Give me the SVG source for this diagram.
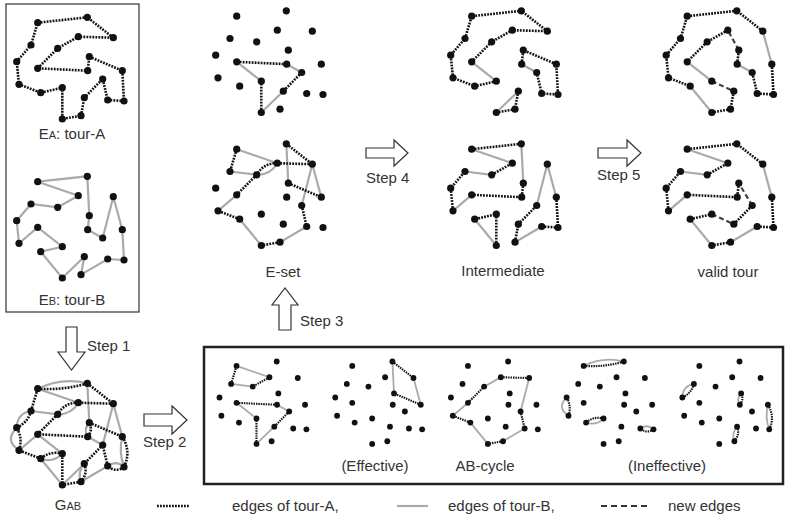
<svg xmlns="http://www.w3.org/2000/svg" xmlns:xlink="http://www.w3.org/1999/xlink" width="786" height="518" viewBox="0 0 786 518">
<style>
.a{fill:none;stroke:#111;stroke-width:2.6;stroke-dasharray:1.8 1.2}
.b{fill:none;stroke:#aaa;stroke-width:2.2}
.n{fill:none;stroke:#444;stroke-width:2.2;stroke-dasharray:5 3}
.t{font-family:"Liberation Sans",Arial,sans-serif;font-size:15px;fill:#333}
.arw{fill:#fff;stroke:#333;stroke-width:1.2}
</style>
<defs>
<g id="pts" fill="#111">
<circle cx="37.7" cy="22.7" r="3.6"/><circle cx="87.3" cy="17.3" r="3.6"/><circle cx="113.3" cy="37.7" r="3.6"/><circle cx="78.3" cy="36.7" r="3.6"/><circle cx="57.7" cy="48.3" r="3.6"/>
<circle cx="37.7" cy="68.3" r="3.6"/><circle cx="87.7" cy="70.7" r="3.6"/><circle cx="89.3" cy="56.7" r="3.6"/><circle cx="122.3" cy="70.7" r="3.6"/><circle cx="124" cy="101" r="3.6"/>
<circle cx="107.7" cy="100" r="3.6"/><circle cx="102.7" cy="79" r="3.6"/><circle cx="84.3" cy="97.7" r="3.6"/><circle cx="81" cy="115.7" r="3.6"/><circle cx="62.3" cy="119" r="3.6"/>
<circle cx="62.3" cy="87.7" r="3.6"/><circle cx="40.7" cy="92.7" r="3.6"/><circle cx="19" cy="84.3" r="3.6"/><circle cx="16.7" cy="61.7" r="3.6"/><circle cx="31" cy="45" r="3.6"/>
</g>
<g id="s1-2"><path class="b" d="M37.7,22.7 Q62,11 87.3,17.3"/><path class="a" d="M37.7,22.7 Q62.9,24.5 87.3,17.3"/></g>
<g id="s4-5"><path class="b" d="M78.3,36.7 Q71.5,48.5 57.7,48.3"/><path class="a" d="M78.3,36.7 Q64.5,36.5 57.7,48.3"/></g>
<g id="s7-8"><path class="b" d="M87.7,70.7 Q83,63.1 89.3,56.7"/><path class="a" d="M87.7,70.7 Q93,64.2 89.3,56.7"/></g>
<g id="s9-10"><path class="b" d="M122.3,70.7 Q118.5,86.1 124,101"/><path class="a" d="M122.3,70.7 Q131.5,85.5 124,101"/></g>
<g id="s10-11"><path class="b" d="M124,101 Q116.3,94 107.7,100"/><path class="a" d="M124,101 Q115.5,107 107.7,100"/></g>
<g id="s13-14"><path class="b" d="M84.3,97.7 Q77,105.5 81,115.7"/><path class="a" d="M84.3,97.7 Q88,107.6 81,115.7"/></g>
<g id="s16-17"><path class="b" d="M62.3,87.7 Q53,97 40.7,92.7"/><path class="a" d="M62.3,87.7 Q50.3,84.5 40.7,92.7"/></g>
<g id="s18-19"><path class="b" d="M19,84.3 Q4,74.4 16.7,61.7"/><path class="a" d="M19,84.3 Q23,72.5 16.7,61.7"/></g>
<g id="s19-20"><path class="b" d="M16.7,61.7 Q17,47.5 31,45"/><path class="a" d="M16.7,61.7 Q28,56.5 31,45"/></g>
</defs>
<rect width="786" height="518" fill="#fff"/>

<!-- left box -->
<rect x="6" y="4" width="133" height="308" fill="none" stroke="#333" stroke-width="1.2"/>

<g id="tourA">
<path class="a" d="M37.7,22.7 L87.3,17.3 L113.3,37.7 L78.3,36.7 L57.7,48.3 L37.7,68.3 L87.7,70.7 L89.3,56.7 L122.3,70.7 L124,101 L107.7,100 L102.7,79 L84.3,97.7 L81,115.7 L62.3,119 L62.3,87.7 L40.7,92.7 L19,84.3 L16.7,61.7 L31,45 Z"/>
<use xlink:href="#pts"/>
<text class="t" x="72" y="139" text-anchor="middle">E<tspan font-size="11">A</tspan>: tour-A</text>
</g>

<g id="tourB">
<g transform="translate(0,159)">
<path class="b" d="M37.7,22.7 L87.3,17.3 L89.3,56.7 L87.7,70.7 L102.7,79 L113.3,37.7 L122.3,70.7 L124,101 L107.7,100 L81,115.7 L84.3,97.7 L62.3,119 L40.7,92.7 L62.3,87.7 L37.7,68.3 L19,84.3 L16.7,61.7 L31,45 L57.7,48.3 L78.3,36.7 Z"/>
<use xlink:href="#pts"/>
</g>
<text class="t" x="72" y="305" text-anchor="middle">E<tspan font-size="11">B</tspan>: tour-B</text>
</g>

<g id="GAB">
<g transform="translate(0,366)">
<path class="b" d="M87.3,17.3 L89.3,56.7 M87.7,70.7 L102.7,79 L113.3,37.7 L122.3,70.7 M107.7,100 L81,115.7 M84.3,97.7 L62.3,119 L40.7,92.7 M62.3,87.7 L37.7,68.3 L19,84.3 M31,45 L57.7,48.3 M78.3,36.7 L37.7,22.7"/>
<path class="a" d="M87.3,17.3 L113.3,37.7 L78.3,36.7 M57.7,48.3 L37.7,68.3 L87.7,70.7 M89.3,56.7 L122.3,70.7 M107.7,100 L102.7,79 L84.3,97.7 M81,115.7 L62.3,119 L62.3,87.7 M40.7,92.7 L19,84.3 M31,45 L37.7,22.7"/>
<use xlink:href="#s1-2"/><use xlink:href="#s4-5"/><use xlink:href="#s7-8"/><use xlink:href="#s9-10"/><use xlink:href="#s10-11"/><use xlink:href="#s13-14"/><use xlink:href="#s16-17"/><use xlink:href="#s18-19"/><use xlink:href="#s19-20"/>
<use xlink:href="#pts"/>
</g>
<text class="t" x="68" y="510" text-anchor="middle">G<tspan font-size="11">AB</tspan></text>
</g>

<g id="Eset">
<g transform="translate(199,-6.5)">
<path class="b" d="M87.7,70.7 L102.7,79 M84.3,97.7 L62.3,119 M62.3,87.7 L37.7,68.3"/>
<path class="a" d="M37.7,68.3 L87.7,70.7 M102.7,79 L84.3,97.7 M62.3,119 L62.3,87.7"/>
<use xlink:href="#pts"/>
</g>
<g transform="translate(199,126.5)">
<path class="b" d="M31,45 L57.7,48.3 M37.7,22.7 L78.3,36.7 M87.3,17.3 L89.3,56.7 M102.7,79 L113.3,37.7 L122.3,70.7 M107.7,100 L81,115.7 M62.3,119 L40.7,92.7 M19,84.3 L37.7,68.3"/>
<path class="a" d="M37.7,22.7 L31,45 M57.7,48.3 L37.7,68.3 M78.3,36.7 L113.3,37.7 L87.3,17.3 M89.3,56.7 L122.3,70.7 M102.7,79 L107.7,100 M81,115.7 L62.3,119 M40.7,92.7 L19,84.3"/>
<use xlink:href="#s4-5"/>
<use xlink:href="#pts"/>
</g>
<text class="t" x="283" y="277" text-anchor="middle">E-set</text>
</g>

<g id="Intermediate">
<g transform="translate(434,-6.5)">
<path class="b" d="M37.7,68.3 L62.3,87.7 M102.7,79 L87.7,70.7 M62.3,119 L84.3,97.7"/>
<path class="a" d="M62.3,87.7 L40.7,92.7 L19,84.3 L16.7,61.7 L31,45 L37.7,22.7 L87.3,17.3 L113.3,37.7 L78.3,36.7 L57.7,48.3 L37.7,68.3 M87.7,70.7 L89.3,56.7 L122.3,70.7 L124,101 L107.7,100 L102.7,79 M84.3,97.7 L81,115.7 L62.3,119"/>
<use xlink:href="#pts"/>
</g>
<g transform="translate(434,126.5)">
<path class="b" d="M87.3,17.3 L89.3,56.7 M37.7,68.3 L19,84.3 M31,45 L57.7,48.3 M78.3,36.7 L37.7,22.7 M113.3,37.7 L122.3,70.7 M107.7,100 L81,115.7 M102.7,79 L113.3,37.7 M40.7,92.7 L62.3,119"/>
<path class="a" d="M37.7,22.7 L87.3,17.3 M89.3,56.7 L87.7,70.7 L37.7,68.3 M19,84.3 L16.7,61.7 L31,45 M57.7,48.3 L78.3,36.7 M122.3,70.7 L124,101 L107.7,100 M81,115.7 L84.3,97.7 L102.7,79 M62.3,119 L62.3,87.7 L40.7,92.7"/>
<use xlink:href="#pts"/>
</g>
<text class="t" x="503" y="276" text-anchor="middle">Intermediate</text>
</g>

<g id="validTour">
<g transform="translate(649.5,-6.5)">
<path class="b" d="M113.3,37.7 L122.3,70.7 M102.7,79 L87.7,70.7 M37.7,68.3 L62.3,87.7 M62.3,119 L40.7,92.7"/>
<path class="a" d="M113.3,37.7 L87.3,17.3 L37.7,22.7 L31,45 L16.7,61.7 L19,84.3 L40.7,92.7 M122.3,70.7 L124,101 L107.7,100 L102.7,79 M87.7,70.7 L89.3,56.7 M78.3,36.7 L57.7,48.3 L37.7,68.3 M84.3,97.7 L81,115.7 L62.3,119"/>
<path class="n" d="M89.3,56.7 L78.3,36.7 M62.3,87.7 L84.3,97.7"/>
<use xlink:href="#pts"/>
</g>
<g transform="translate(649.5,126.5)">
<path class="b" d="M113.3,37.7 L122.3,70.7 M107.7,100 L81,115.7 M62.3,119 L40.7,92.7 M37.7,68.3 L19,84.3 M31,45 L57.7,48.3 M78.3,36.7 L37.7,22.7"/>
<path class="a" d="M113.3,37.7 L87.3,17.3 L37.7,22.7 M122.3,70.7 L124,101 L107.7,100 M81,115.7 L62.3,119 M40.7,92.7 L62.3,87.7 M84.3,97.7 L102.7,79 M89.3,56.7 L87.7,70.7 L37.7,68.3 M19,84.3 L16.7,61.7 L31,45 M57.7,48.3 L78.3,36.7"/>
<path class="n" d="M62.3,87.7 L84.3,97.7 M102.7,79 L89.3,56.7"/>
<use xlink:href="#pts"/>
</g>
<text class="t" x="728" y="277" text-anchor="middle">valid tour</text>
</g>

<!-- bottom box -->
<g id="ABcycles">
<rect x="204" y="347" width="579" height="137" fill="none" stroke="#222" stroke-width="2.5"/>
<g id="ab1" transform="translate(206,347.5) scale(0.81)">
<path class="b" d="M37.7,22.7 L78.3,36.7 M57.7,48.3 L31,45 M87.7,70.7 L102.7,79 M84.3,97.7 L62.3,119 M62.3,87.7 L37.7,68.3"/>
<path class="a" d="M78.3,36.7 L57.7,48.3 M31,45 L37.7,22.7 M37.7,68.3 L87.7,70.7 M102.7,79 L84.3,97.7 M62.3,119 L62.3,87.7"/>
<use xlink:href="#pts"/>
</g>
<g id="ab2" transform="translate(321.7,347.5) scale(0.81)">
<path class="b" d="M113.3,37.7 L122.3,70.7 M89.3,56.7 L87.3,17.3"/>
<path class="a" d="M87.3,17.3 L113.3,37.7 M122.3,70.7 L89.3,56.7"/>
<use xlink:href="#pts"/>
</g>
<g id="ab3" transform="translate(437.4,347.5) scale(0.81)">
<path class="b" d="M113.3,37.7 L102.7,79 M107.7,100 L81,115.7 M62.3,119 L40.7,92.7 M19,84.3 L37.7,68.3 M57.7,48.3 L78.3,36.7"/>
<path class="a" d="M78.3,36.7 L113.3,37.7 M102.7,79 L107.7,100 M81,115.7 L62.3,119 M40.7,92.7 L19,84.3 M37.7,68.3 L57.7,48.3"/>
<use xlink:href="#pts"/>
</g>
<g id="ab4" transform="translate(553.1,347.5) scale(0.81)">
<use xlink:href="#s1-2"/><use xlink:href="#s18-19"/><use xlink:href="#s16-17"/><use xlink:href="#s10-11"/>
<use xlink:href="#pts"/>
</g>
<g id="ab5" transform="translate(668.8,347.5) scale(0.81)">
<use xlink:href="#s19-20"/><use xlink:href="#s7-8"/><use xlink:href="#s9-10"/><use xlink:href="#s13-14"/>
<use xlink:href="#pts"/>
</g>
<text class="t" x="375" y="471" text-anchor="middle">(Effective)</text>
<text class="t" x="485" y="471" text-anchor="middle">AB-cycle</text>
<text class="t" x="667" y="471" text-anchor="middle">(Ineffective)</text>
</g>

<!-- step arrows -->
<g id="connectors">
<polygon class="arw" points="66,327 77,327 77,352 85,352 71.5,370 58,352 66,352"/>
<text class="t" x="87" y="351">Step 1</text>
<polygon class="arw" points="144,414 172,414 172,406 187,420 172,434 172,426 144,426"/>
<text class="t" x="143" y="447">Step 2</text>
<polygon class="arw" points="279,330 291,330 291,305 298,305 285,288 272,305 279,305"/>
<text class="t" x="300" y="326">Step 3</text>
<polygon class="arw" points="366,148 394,148 394,140 408,153 394,166 394,158 366,158"/>
<text class="t" x="366" y="183">Step 4</text>
<polygon class="arw" points="598,148 627,148 627,140 641,153 627,166 627,158 598,158"/>
<text class="t" x="597" y="180">Step 5</text>
</g>

<!-- legend -->
<g id="legend">
<path class="a" d="M157,506 H190"/>
<text class="t" x="232" y="511">edges of  tour-A,</text>
<path class="b" d="M397,506 H428"/>
<text class="t" x="448" y="511">edges of  tour-B,</text>
<path d="M601,506 H648" fill="none" stroke="#333" stroke-width="2" stroke-dasharray="6 4"/>
<text class="t" x="668" y="511">new edges</text>
</g>
</svg>
